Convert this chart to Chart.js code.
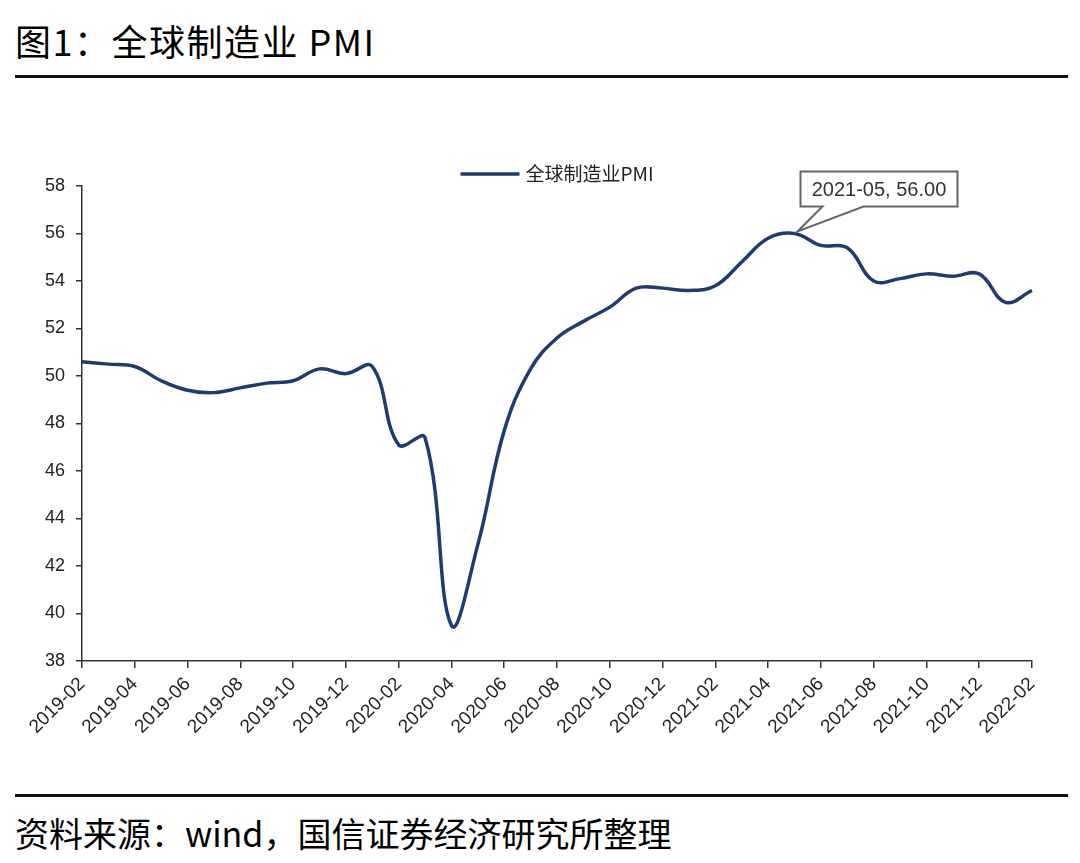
<!DOCTYPE html>
<html>
<head>
<meta charset="utf-8">
<script src="https://cdn.jsdelivr.net/npm/chart.js@4/dist/chart.umd.min.js"></script>
<style>
    html, body { margin: 0; padding: 0; background: #fff; }
    #page { position: relative; width: 1080px; height: 863px; overflow: hidden; }
    .title { position: absolute; left: 15px; top: 22px; font: 36px "Noto Sans CJK SC", sans-serif; line-height: 1; color: #000; letter-spacing: 1.5px; }
    .rule { position: absolute; left: 15px; width: 1053px; height: 3px; background: #111; }
    .source { position: absolute; left: 15px; top: 816px; font: 34px "Noto Sans CJK SC", sans-serif; line-height: 1; color: #000; }
    #chart-box { position: absolute; left: 0; top: 100px; width: 1080px; height: 680px; }
</style>
</head>
<body>
<div id="page">
    <div class="title">图1：全球制造业 PMI</div>
    <div class="rule" style="top:75px"></div>
    <div id="chart-box"><canvas id="chart-pmi"></canvas></div>
    <div class="rule" style="top:794px"></div>
    <div class="source">资料来源：wind，国信证券经济研究所整理</div>
</div>
<script>
// months 2019-02 .. 2022-02
var months = [
    '2019-02', '2019-03', '2019-04', '2019-05', '2019-06', '2019-07', '2019-08', '2019-09', '2019-10', '2019-11', '2019-12',
    '2020-01', '2020-02', '2020-03', '2020-04', '2020-05', '2020-06', '2020-07', '2020-08', '2020-09', '2020-10', '2020-11', '2020-12',
    '2021-01', '2021-02', '2021-03', '2021-04', '2021-05', '2021-06', '2021-07', '2021-08', '2021-09', '2021-10', '2021-11', '2021-12',
    '2022-01', '2022-02'
];
var pmi = [
    50.6, 50.5, 50.4, 49.8, 49.4, 49.3, 49.5, 49.7, 49.8, 50.3, 50.1,
    50.4, 47.1, 47.4, 39.5, 42.9, 47.7, 50.3, 51.6, 52.3, 52.9, 53.7, 53.7,
    53.6, 53.8, 54.8, 55.8, 56.0, 55.5, 55.4, 54.0, 54.1, 54.3, 54.2, 54.3,
    53.1, 53.6
];
var seriesName = '全球制造业PMI';
var yTicks = [38, 40, 42, 44, 46, 48, 50, 52, 54, 56, 58];

var lineColor = '#1f3b70';
var axisColor = '#333';

// legend drawn above the plot, centred on chart area
var legendPlugin = {
    id: 'topLegend',
    afterDraw: function (chart) {
        var ctx = chart.ctx, area = chart.chartArea;
        var cx = (area.left + area.right) / 2;
        ctx.save();
        ctx.font = '19px "Noto Sans CJK SC", sans-serif';
        var tw = ctx.measureText(seriesName).width;
        var total = 59 + 6 + tw;
        var x0 = cx - total / 2, y0 = area.top - 12;
        ctx.strokeStyle = lineColor;
        ctx.lineWidth = 3.5;
        ctx.beginPath();
        ctx.moveTo(x0, y0);
        ctx.lineTo(x0 + 59, y0);
        ctx.stroke();
        ctx.fillStyle = '#222';
        ctx.textBaseline = 'middle';
        ctx.fillText(seriesName, x0 + 65, y0);
        ctx.restore();
    }
};

// callout for the peak value
var peakPlugin = {
    id: 'peakCallout',
    afterDatasetsDraw: function (chart) {
        var idx = pmi.indexOf(Math.max.apply(null, pmi));
        var pt = chart.getDatasetMeta(0).data[idx];
        if (!pt) return;
        var ctx = chart.ctx;
        var px = pt.x + 3, py = pt.y - 2;
        var label = months[idx] + ', ' + pmi[idx].toFixed(2);
        var bx = px + 3, by = py - 60, bw = 157, bh = 35;
        ctx.save();
        ctx.strokeStyle = '#666';
        ctx.lineWidth = 2;
        ctx.fillStyle = '#fff';
        ctx.beginPath();
        ctx.moveTo(bx, by);
        ctx.lineTo(bx + bw, by);
        ctx.lineTo(bx + bw, by + bh);
        ctx.lineTo(px + 66, by + bh);
        ctx.lineTo(px, py);
        ctx.lineTo(px + 25, by + bh);
        ctx.lineTo(bx, by + bh);
        ctx.closePath();
        ctx.fill();
        ctx.stroke();
        ctx.fillStyle = '#333';
        ctx.font = '20px "Liberation Sans", Arial, sans-serif';
        ctx.textAlign = 'center';
        ctx.textBaseline = 'middle';
        ctx.fillText(label, bx + bw / 2, by + bh / 2 + 1);
        ctx.restore();
    }
};

new Chart(document.getElementById('chart-pmi').getContext('2d'), {
    type: 'line',
    data: {
        labels: months,
        datasets: [{
            label: seriesName,
            data: pmi,
            borderColor: lineColor,
            borderWidth: 3.5,
            pointRadius: 0,
            tension: 0.4,
            fill: false
        }]
    },
    options: {
        responsive: true,
        maintainAspectRatio: false,
        animation: false,
        layout: { padding: { top: 86, right: 48, left: 0, bottom: 0 } },
        plugins: { legend: { display: false }, tooltip: { enabled: false } },
        scales: {
            x: {
                offset: false,
                grid: { drawOnChartArea: false, drawTicks: true, tickLength: 7, color: axisColor, lineWidth: 1.5 },
                border: { color: axisColor, width: 1.5 },
                afterFit: function (scale) { scale.height = 119; },
                ticks: {
                    autoSkip: false,
                    maxRotation: 45,
                    minRotation: 45,
                    padding: 5,
                    color: '#222',
                    font: { family: '"Liberation Sans", Arial, sans-serif', size: 19 },
                    callback: function (v, i) { return i % 2 === 0 ? months[i] : null; }
                }
            },
            y: {
                min: yTicks[0],
                max: yTicks[yTicks.length - 1],
                afterBuildTicks: function (scale) { scale.ticks = yTicks.map(v => ({ value: v })); },
                grid: { drawOnChartArea: false, drawTicks: true, tickLength: 6, color: axisColor, lineWidth: 1.5 },
                border: { color: axisColor, width: 1.5 },
                afterFit: function (scale) { scale.width = 82; },
                ticks: {
                    padding: 11,
                    color: '#222',
                    font: { family: '"Liberation Sans", Arial, sans-serif', size: 18 }
                }
            }
        }
    },
    plugins: [legendPlugin, peakPlugin]
});
</script>
</body>
</html>
